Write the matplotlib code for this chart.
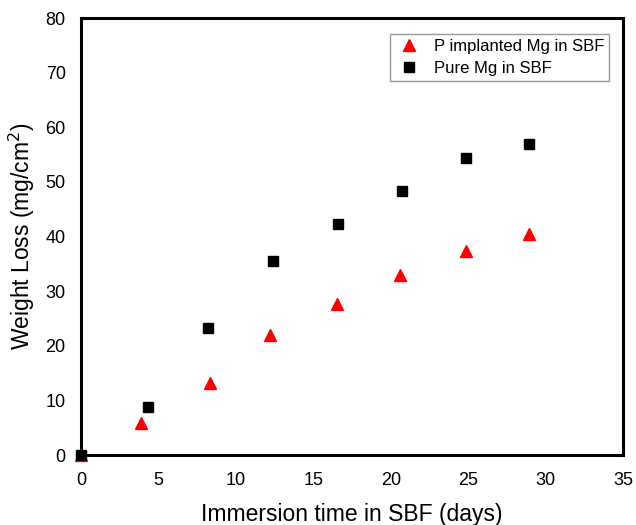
import numpy as np
import matplotlib
matplotlib.use("Agg")
import matplotlib.pyplot as plt

plt.rcParams['font.family'] = ['Liberation Sans', 'DejaVu Sans']

# data
days_p = [0, 3.9, 8.3, 12.2, 16.5, 20.6, 24.85, 28.9]
loss_p = [0, 5.9, 13.1, 22.0, 27.6, 32.9, 37.4, 40.5]
days_pure = [0, 4.3, 8.2, 12.4, 16.6, 20.7, 24.85, 28.9]
loss_pure = [0, 8.7, 23.3, 35.5, 42.3, 48.3, 54.4, 56.9]

fig = plt.figure(figsize=(6.36, 5.25), dpi=100)
ax = fig.add_axes([81 / 636, 70 / 525, 542 / 636, 437 / 525])

ax.plot(days_p, loss_p, '^', color='#ff0000', ms=8, mec='#ff0000',
        label='P implanted Mg in SBF', clip_on=False, zorder=3)
ax.plot(days_pure, loss_pure, 's', color='black', ms=7,
        label='Pure Mg in SBF', clip_on=False, zorder=4)

ax.set_xlim(0, 35)
ax.set_ylim(0, 80)
ax.set_xticks(np.arange(0, 36, 5))
ax.set_yticks(np.arange(0, 81, 10))
ax.tick_params(length=0, labelsize=13)
ax.tick_params(axis='y', pad=11)
ax.tick_params(axis='x', pad=12)
for s in ax.spines.values():
    s.set_linewidth(2.2)

ax.set_xlabel('Immersion time in SBF (days)', fontsize=16.5, labelpad=10)
ax.set_ylabel('Weight Loss (mg/cm$^2$)', fontsize=16.5, labelpad=6)

leg = ax.legend(loc='upper right', bbox_to_anchor=(0.974, 0.964), fontsize=12,
                frameon=True, fancybox=False, edgecolor='#808080',
                borderpad=0.3, handletextpad=0.7, labelspacing=0.45,
                borderaxespad=0, handlelength=1.6)
leg.get_frame().set_linewidth(1.0)

fig.savefig('out.png', dpi=100)
